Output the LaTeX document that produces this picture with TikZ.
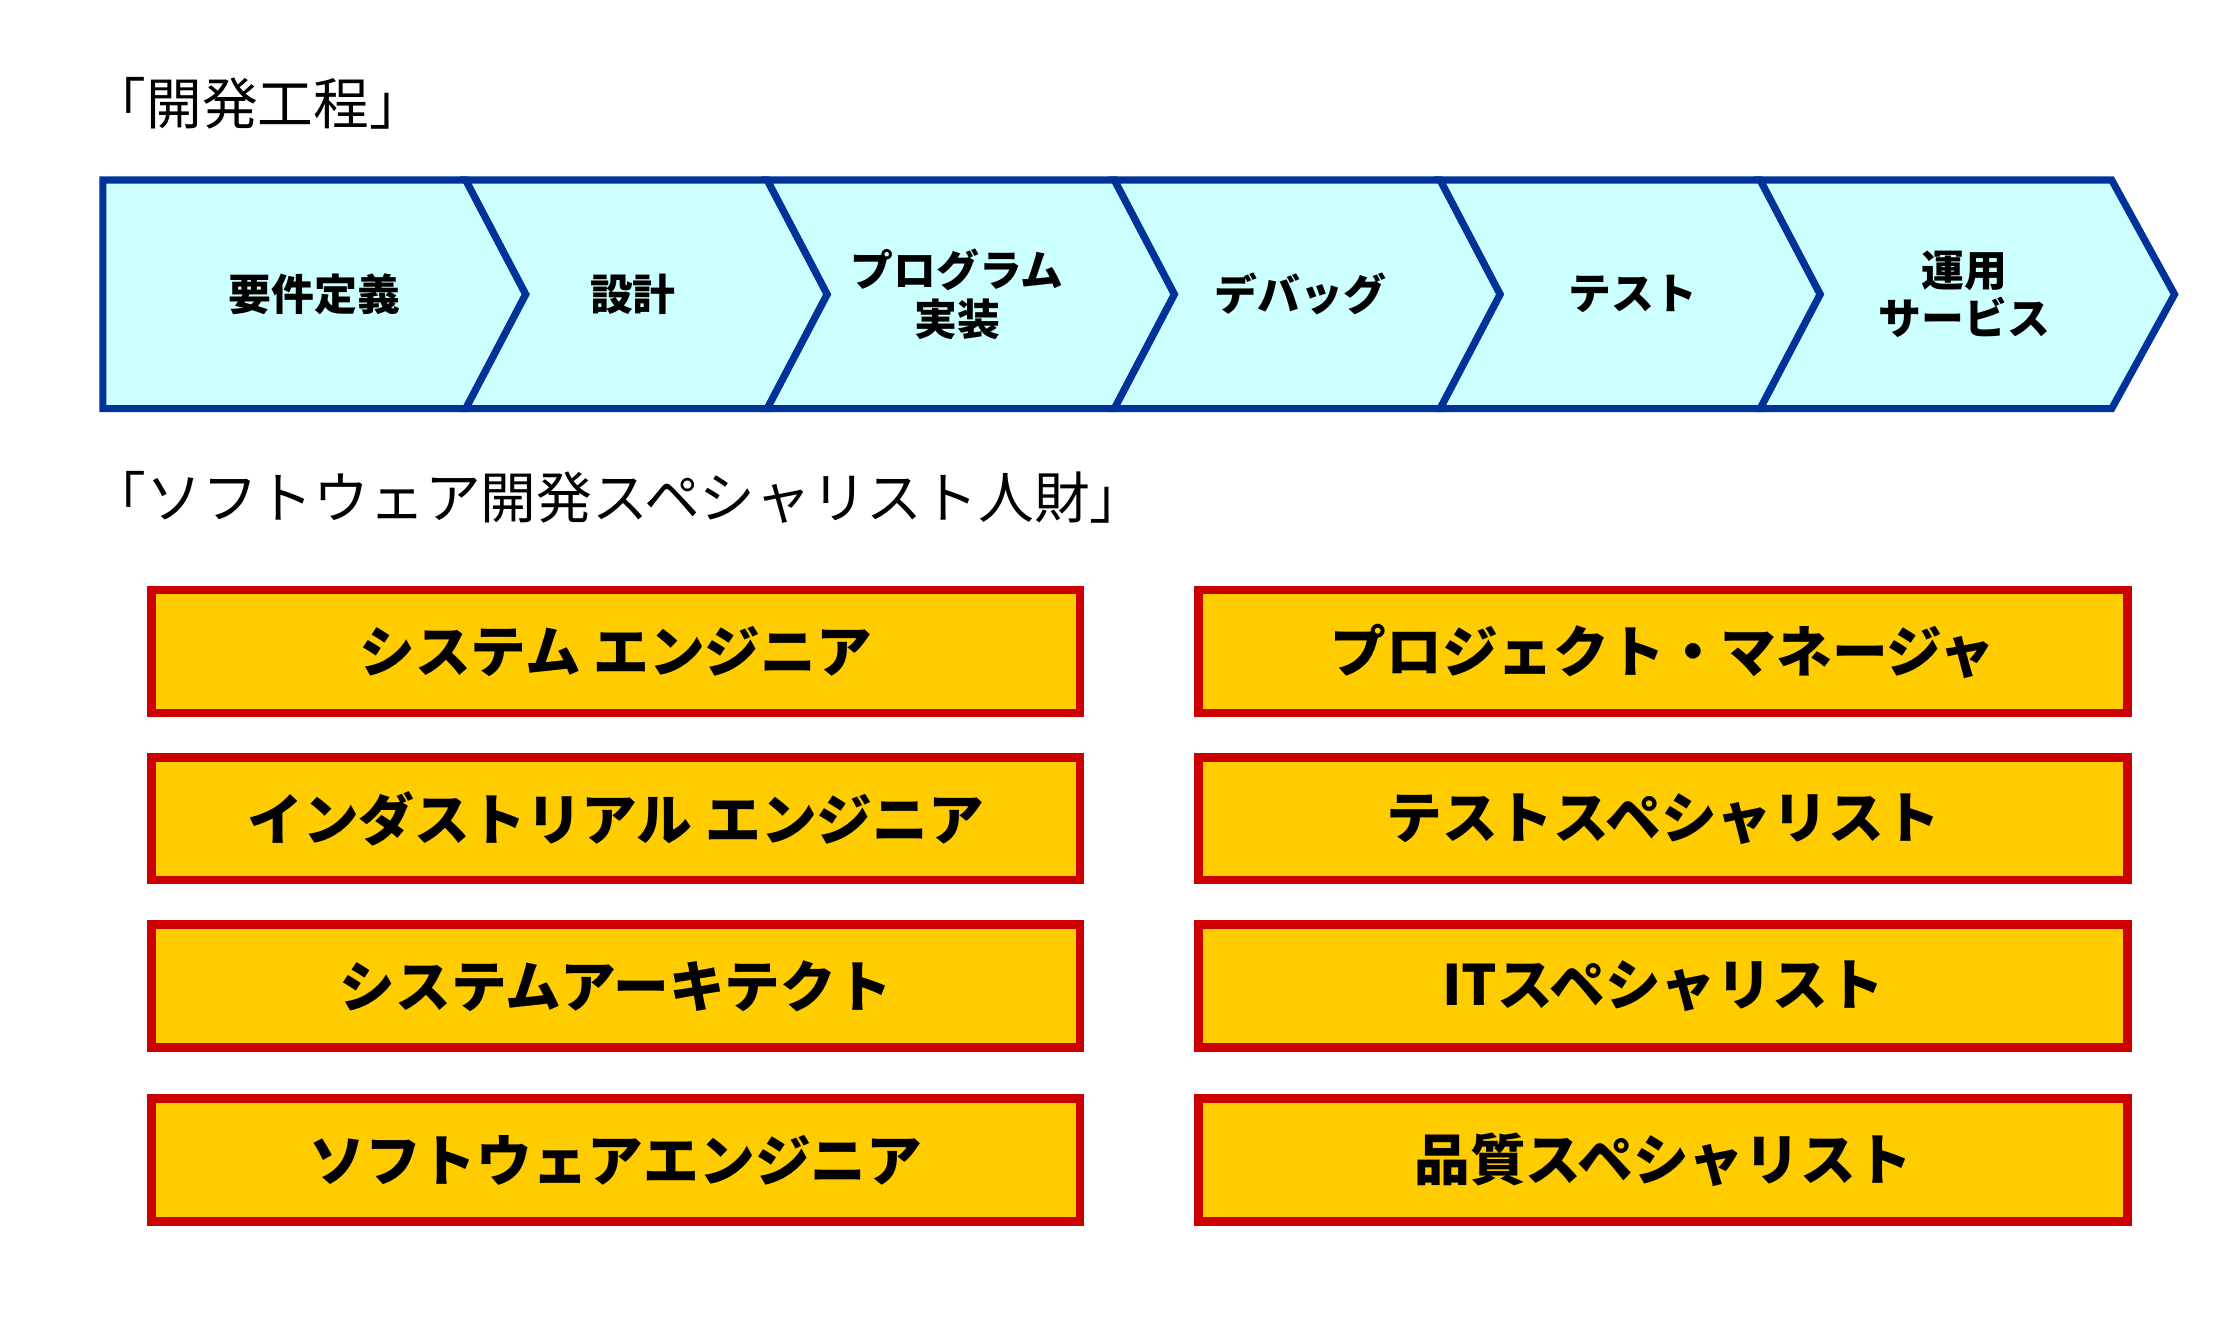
\documentclass[tikz,border=0pt]{standalone}
\usepackage{fontspec}
\setmainfont{Noto Sans CJK JP}
\definecolor{chfill}{HTML}{CCFFFF}
\definecolor{chline}{HTML}{003399}
\definecolor{bxfill}{HTML}{FFCC00}
\definecolor{bxline}{HTML}{CC0000}
\begin{document}
\begin{tikzpicture}[x=1pt,y=-1pt,
  chev/.style={fill=chfill,draw=chline,line width=5pt,line join=miter},
  chtext/.style={font=\bfseries\fontsize{30}{34}\selectfont,align=center},
  rolebox/.style={fill=bxfill,draw=bxline,line width=6pt,minimum width=650pt,minimum height=86pt,font=\bfseries\fontsize{39}{44}\selectfont,inner sep=0pt},
  ttl/.style={anchor=west,font=\fontsize{39}{44}\selectfont}]
\useasboundingbox (0,0) rectangle (1551,928);
\node[ttl] (t1) at (60,72) {「開発工程」};
\node[ttl] (t2) at (60,348) {「ソフトウェア開発スペシャリスト人財」};
\foreach \a/\b/\c/\d in {72/326/368/0, 326/537/579/1, 537/780/822/1, 780/1008/1050/1, 1008/1232/1274/1, 1232/1478/1522/1}{
  \ifnum\d=0
    \draw[chev] (\a,126) -- (\b,126) -- (\c,206) -- (\b,286) -- (\a,286) -- cycle;
  \else
    \draw[chev] (\a,126) -- (\b,126) -- (\c,206) -- (\b,286) -- (\a,286) -- ({\a+42},206) -- cycle;
  \fi
}
\node[chtext] (c1) at (220,206) {要件定義};
\node[chtext] (c2) at (443,206) {設計};
\node[chtext] (c3) at (670,206) {プログラム\\実装};
\node[chtext] (c4) at (910,206) {デバッグ};
\node[chtext] (c5) at (1143,206) {テスト};
\node[chtext] (c6) at (1375,206) {運用\\サービス};
\node[rolebox] (l1) at (431,456) {システム エンジニア};
\node[rolebox] (l2) at (431,573) {インダストリアル エンジニア};
\node[rolebox] (l3) at (431,690) {システムアーキテクト};
\node[rolebox] (l4) at (431,812) {ソフトウェアエンジニア};
\node[rolebox] (r1) at (1164,456) {プロジェクト・マネージャ};
\node[rolebox] (r2) at (1164,573) {テストスペシャリスト};
\node[rolebox] (r3) at (1164,690) {ITスペシャリスト};
\node[rolebox] (r4) at (1164,812) {品質スペシャリスト};
\end{tikzpicture}
\end{document}
